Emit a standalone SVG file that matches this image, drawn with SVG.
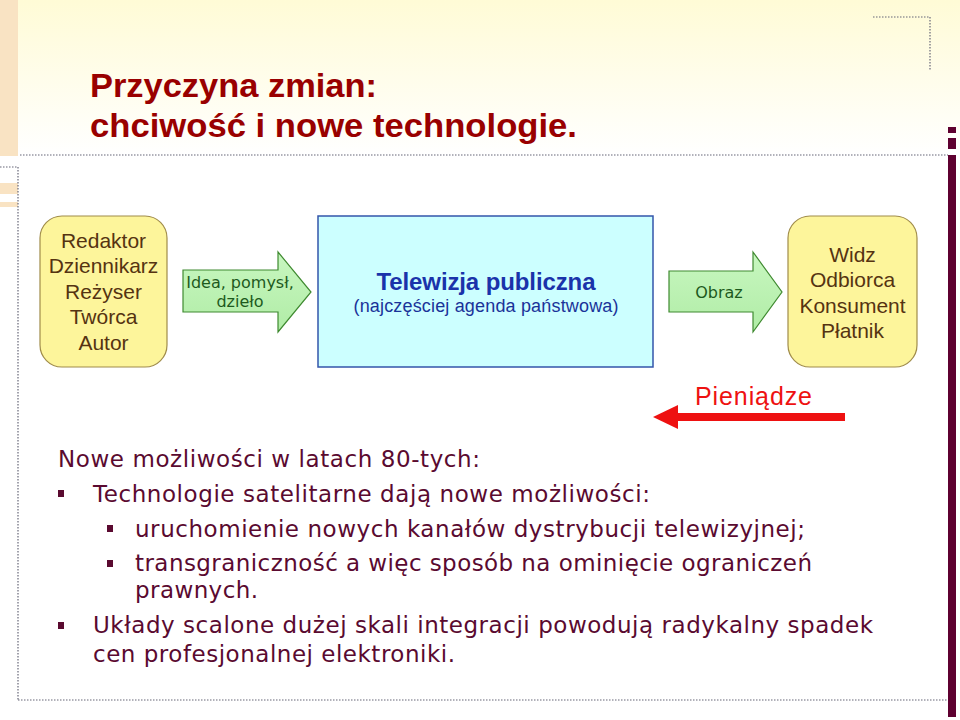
<svg xmlns="http://www.w3.org/2000/svg" width="960" height="720" viewBox="0 0 960 720">
<defs>
<linearGradient id="topg" x1="0" y1="0" x2="0" y2="1">
<stop offset="0" stop-color="#fffbd6"/>
<stop offset="1" stop-color="#ffffff"/>
</linearGradient>
<linearGradient id="greeng" x1="0" y1="0" x2="0" y2="1">
<stop offset="0" stop-color="#c8f7c0"/>
<stop offset="1" stop-color="#b0eca6"/>
</linearGradient>
<style>
.dot{stroke:#666677;stroke-width:1.2;stroke-dasharray:1.5 1.5;fill:none}
.wheat{fill:#f9e3c3}
.maroon{fill:#5e0030}
.title{font-family:"Liberation Sans",Arial,sans-serif;font-weight:bold;font-size:34px;fill:#990000}
.person{fill:#fdf59b;stroke:#a08c4a;stroke-width:1.2}
.ptext{font-family:"Liberation Sans",Arial,sans-serif;font-size:21px;fill:#553311;text-anchor:middle}
.garrow{fill:url(#greeng);stroke:#3f8a30;stroke-width:1.2}
.gtext{font-family:"DejaVu Sans",Verdana,sans-serif;font-size:16px;fill:#1d5a1d;text-anchor:middle}
.body{font-family:"DejaVu Sans",Verdana,sans-serif;font-size:23px;fill:#5a0a30}
.bul{fill:#5a0a30}
</style>
</defs>
<rect x="0" y="0" width="960" height="720" fill="#ffffff"/>
<rect x="0" y="0" width="960" height="155" fill="url(#topg)"/>
<rect class="wheat" x="0" y="0" width="18" height="156"/>
<rect class="wheat" x="0" y="183" width="18" height="11"/>
<rect class="wheat" x="0" y="202" width="18" height="5"/>
<line class="dot" x1="20" y1="155" x2="948" y2="155"/>
<line class="dot" x1="0" y1="167" x2="18" y2="167"/>
<line class="dot" x1="18" y1="167" x2="18" y2="700"/>
<line class="dot" x1="18" y1="700" x2="948" y2="700"/>
<polyline class="dot" points="873,17 930,17 930,71"/>
<rect class="maroon" x="948" y="127" width="8" height="6"/>
<rect class="maroon" x="948" y="138" width="8" height="11"/>
<rect class="maroon" x="948" y="155" width="8" height="562"/>

<g id="title">
<text class="title" x="90" y="97" textLength="287" lengthAdjust="spacingAndGlyphs">Przyczyna zmian:</text>
<text class="title" x="90" y="137" textLength="487" lengthAdjust="spacingAndGlyphs">chciwość i nowe technologie.</text>
</g>

<g id="node-tworcy">
<rect class="person" x="40" y="216" width="127" height="151" rx="22"/>
<text class="ptext" x="103.5" y="248">Redaktor</text>
<text class="ptext" x="103.5" y="273">Dziennikarz</text>
<text class="ptext" x="103.5" y="299">Reżyser</text>
<text class="ptext" x="103.5" y="324">Twórca</text>
<text class="ptext" x="103.5" y="350">Autor</text>
</g>

<g id="node-telewizja">
<rect x="318" y="216" width="335" height="151" fill="#ccffff" stroke="#3355aa" stroke-width="1.5"/>
<text x="486" y="290" text-anchor="middle" font-family="Liberation Sans, Arial, sans-serif" font-weight="bold" font-size="24" fill="#1a33aa" textLength="219">Telewizja publiczna</text>
<text x="486" y="312" text-anchor="middle" font-family="Liberation Sans, Arial, sans-serif" font-size="18" fill="#1a3399" textLength="265">(najczęściej agenda państwowa)</text>
</g>

<g id="node-widz">
<rect class="person" x="788" y="216" width="129" height="151" rx="22"/>
<text class="ptext" x="852.5" y="262">Widz</text>
<text class="ptext" x="852.5" y="287">Odbiorca</text>
<text class="ptext" x="852.5" y="313">Konsument</text>
<text class="ptext" x="852.5" y="338">Płatnik</text>
</g>

<g id="connectors">
<g id="arrow-idea">
<polygon class="garrow" points="183,270 278,270 278,252 311,292 278,332 278,312 183,312"/>
<text class="gtext" x="240" y="288">Idea, pomysł,</text>
<text class="gtext" x="240" y="307">dzieło</text>
</g>
<g id="arrow-obraz">
<polygon class="garrow" points="669,271 753,271 753,252 782,292 753,332 753,312 669,312"/>
<text class="gtext" x="719" y="298">Obraz</text>
</g>
<g id="arrow-pieniadze">
<rect x="676" y="413" width="169" height="8" fill="#ee1111"/>
<polygon points="653,417 678,405 678,429" fill="#ee1111"/>
<text x="695" y="405" font-family="Liberation Sans, Arial, sans-serif" font-size="25" fill="#ee1111" textLength="117">Pieniądze</text>
</g>
</g>

<g id="body-text">
<text class="body" x="58" y="467" textLength="422">Nowe możliwości w latach 80-tych:</text>
<rect class="bul" x="58" y="490" width="6" height="7"/>
<text class="body" x="93" y="502" textLength="557">Technologie satelitarne dają nowe możliwości:</text>
<rect class="bul" x="107" y="525" width="6" height="7"/>
<text class="body" x="135" y="537" textLength="670">uruchomienie nowych kanałów dystrybucji telewizyjnej;</text>
<rect class="bul" x="107" y="560" width="6" height="7"/>
<text class="body" x="135" y="571" textLength="677">transgraniczność a więc sposób na ominięcie ograniczeń</text>
<text class="body" x="135" y="598" textLength="123">prawnych.</text>
<rect class="bul" x="58" y="622" width="6" height="7"/>
<text class="body" x="93" y="633" textLength="780">Układy scalone dużej skali integracji powodują radykalny spadek</text>
<text class="body" x="93" y="662" textLength="362">cen profesjonalnej elektroniki.</text>
</g>
</svg>
